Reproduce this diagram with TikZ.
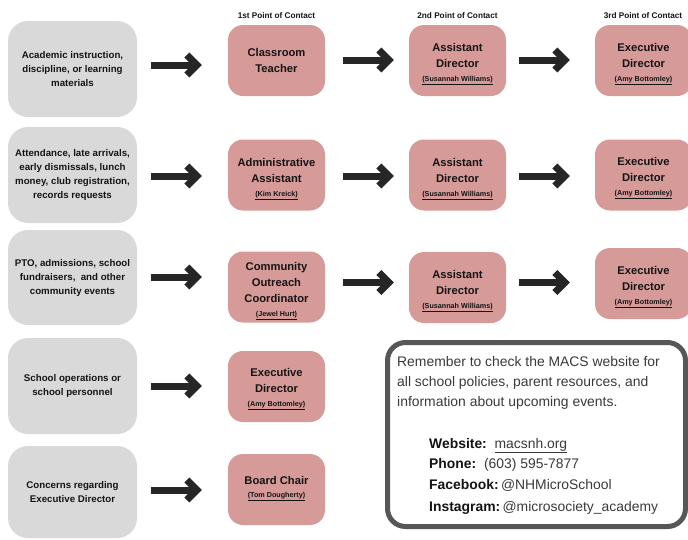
\documentclass[tikz,border=0pt]{standalone}
\usepackage{fontspec}
\setmainfont{Liberation Sans}
\usetikzlibrary{arrows.meta}
\definecolor{boxgray}{HTML}{D9D9D9}
\definecolor{boxpink}{HTML}{D69A99}
\definecolor{arrowc}{HTML}{262626}
\definecolor{framec}{HTML}{575757}
\definecolor{infotext}{HTML}{3A3A3A}
\definecolor{ink}{HTML}{141414}
\newcommand{\grayfont}{\fontsize{9.7}{14}\selectfont\bfseries}
\newcommand{\titlefont}{\fontsize{11.2}{16}\selectfont\bfseries}
\newcommand{\namefont}{\fontsize{7.2}{10}\selectfont\bfseries}
\newcommand{\headfont}{\fontsize{8.2}{10}\selectfont\bfseries}
\newcommand{\infofont}{\fontsize{13.9}{20}\selectfont}
\newcommand{\nm}[1]{{\namefont\underline{#1}}}
\newcommand{\lowstrut}{\rule{0pt}{16pt}}
\begin{document}
\begin{tikzpicture}[x=1pt,y=-1pt,
  graybox/.style={fill=boxgray, rounded corners=20pt, minimum width=129pt, inner sep=0pt, align=center, font=\grayfont, text=ink},
  pinkbox/.style={fill=boxpink, rounded corners=15pt, minimum width=97pt, minimum height=71pt, inner sep=0pt, align=center, font=\titlefont, text=ink},
  headlbl/.style={font=\headfont, text=ink, inner sep=0pt},
  bigarrow/.style={draw=arrowc, line width=7pt, -{Straight Barb[length=10pt,width=20pt,sharp]}},
  arrA/.style={bigarrow, shorten <=14pt, shorten >=26pt},
  arrB/.style={bigarrow, shorten <=18pt, shorten >=15pt},
  arrC/.style={bigarrow, shorten <=13pt, shorten >=25pt},
  infoline/.style={anchor=base west, inner sep=0pt, font=\infofont, text=infotext}
]
\useasboundingbox (0,0) rectangle (688,539);

% headers
\node[headlbl] (h1) at (276.5,15.7) {1st Point of Contact};
\node[headlbl] (h2) at (457.5,15.7) {2nd Point of Contact};
\node[headlbl] (h3) at (643,15.7) {3rd Point of Contact};

% gray boxes
\node[graybox, minimum height=96pt] (g1) at (72.5,69) {Academic instruction,\\discipline, or learning\\materials};
\node[graybox, minimum height=96pt] (g2) at (72.5,175) {Attendance, late arrivals,\\early dismissals, lunch\\money, club registration,\\records requests};
\node[graybox, minimum height=95pt] (g3) at (72.5,277.5) {PTO, admissions, school\\fundraisers,\ \ and other\\community events};
\node[graybox, minimum height=96pt] (g4) at (72.5,386) {School operations or\\school personnel};
\node[graybox, minimum height=92pt] (g5) at (72.5,492) {Concerns regarding\\Executive Director};

% pink boxes
\node[pinkbox] (p11) at (276.5,60.5) {Classroom\\Teacher};
\node[pinkbox] (p12) at (457.5,60.5) {\lowstrut Assistant\\Director\\[-2.4pt]\nm{(Susannah Williams)}};
\node[pinkbox] (p13) at (643.5,60.5) {\rule{0pt}{15pt}Executive\\Director\\[-2.4pt]\nm{(Amy Bottomley)}};
\node[pinkbox] (p21) at (276.5,175) {\lowstrut Administrative\\Assistant\\[-2.4pt]\nm{(Kim Kreick)}};
\node[pinkbox] (p22) at (457.5,175) {\lowstrut Assistant\\Director\\[-2.4pt]\nm{(Susannah Williams)}};
\node[pinkbox] (p23) at (643.5,175) {\rule{0pt}{15pt}Executive\\Director\\[-2.4pt]\nm{(Amy Bottomley)}};
\node[pinkbox] (p31) at (276.5,287) {\lowstrut Community\\Outreach\\Coordinator\\[-2.4pt]\nm{(Jewel Hurt)}};
\node[pinkbox] (p32) at (457.5,287.5) {\lowstrut Assistant\\Director\\[-2.4pt]\nm{(Susannah Williams)}};
\node[pinkbox] (p33) at (643.5,283.5) {\rule{0pt}{15pt}Executive\\Director\\[-2.4pt]\nm{(Amy Bottomley)}};
\node[pinkbox] (p41) at (276.5,386.5) {\rule{0pt}{14pt}Executive\\Director\\[-2.4pt]\nm{(Amy Bottomley)}};
\node[pinkbox] (p51) at (276.5,489.5) {Board Chair\\[-2.4pt]\nm{(Tom Dougherty)}\rule[-5.5pt]{0pt}{5pt}};

% arrow levels
\coordinate (ya1) at (0,65);
\coordinate (yb1) at (0,60);
\coordinate (y2) at (0,176);
\coordinate (ya3) at (0,277);
\coordinate (yb3) at (0,282.5);
\coordinate (y4) at (0,386);
\coordinate (y5) at (0,490);

\draw[arrA] (g1.east |- ya1) -- (p11.west |- ya1);
\draw[arrB] (p11.east |- yb1) -- (p12.west |- yb1);
\draw[arrC] (p12.east |- yb1) -- (p13.west |- yb1);
\draw[arrA] (g2.east |- y2) -- (p21.west |- y2);
\draw[arrB] (p21.east |- y2) -- (p22.west |- y2);
\draw[arrC] (p22.east |- y2) -- (p23.west |- y2);
\draw[arrA] (g3.east |- ya3) -- (p31.west |- ya3);
\draw[arrB] (p31.east |- yb3) -- (p32.west |- yb3);
\draw[arrC] (p32.east |- yb3) -- (p33.west |- yb3);
\draw[arrA] (g4.east |- y4) -- (p41.west |- y4);
\draw[arrA] (g5.east |- y5) -- (p51.west |- y5);

% info box
\node[draw=framec, line width=5pt, fill=white, rounded corners=18pt, minimum width=298pt, minimum height=184pt, inner sep=0pt] (info) at (536.5,434.5) {};
\node[infoline] (i1) at (397,366) {Remember to check the MACS website for};
\node[infoline] (i2) at (397,386) {all school policies, parent resources, and};
\node[infoline] (i3) at (397,406) {information about upcoming events.};
\node[infoline] (c1) at (429,448) {{\color{ink}\bfseries Website:}\ \ \underline{macsnh.org}};
\node[infoline] (c2) at (429,468) {{\color{ink}\bfseries Phone:}\ \ (603) 595-7877};
\node[infoline] (c3) at (429,489) {{\color{ink}\bfseries Facebook:}\,@NHMicroSchool};
\node[infoline] (c4) at (429,511) {{\color{ink}\bfseries Instagram:}\,@microsociety\_academy};
\end{tikzpicture}
\end{document}
